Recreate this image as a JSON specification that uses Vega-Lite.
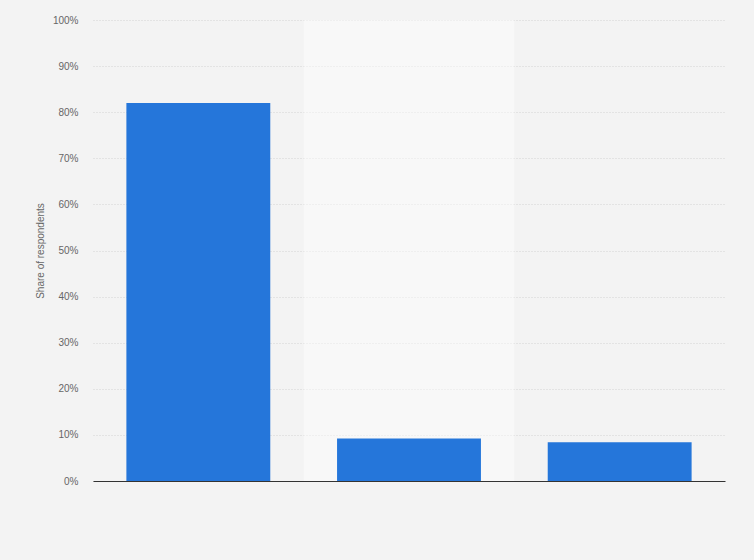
{
  "$schema": "https://vega.github.io/schema/vega-lite/v6.json",
  "width": 632,
  "height": 461,
  "autosize": "none",
  "padding": {"left": 93, "top": 20, "right": 29, "bottom": 79},
  "background": "#f3f3f3",
  "config": {
    "view": {"stroke": null},
    "font": "Liberation Sans"
  },
  "data": {
    "values": [
      {"category": "A", "share": 82.0},
      {"category": "B", "share": 9.2},
      {"category": "C", "share": 8.4}
    ]
  },
  "encoding": {
    "x": {
      "field": "category",
      "type": "nominal",
      "sort": null,
      "scale": {"domain": ["A", "B", "C"], "paddingInner": 0, "paddingOuter": 0},
      "axis": {
        "title": null,
        "labels": false,
        "ticks": false,
        "domain": true,
        "domainColor": "#333333",
        "domainWidth": 1.2,
        "grid": false
      }
    }
  },
  "layer": [
    {
      "transform": [{"filter": "datum.category === 'B'"}],
      "mark": {"type": "bar", "color": "#ffffff", "opacity": 0.42, "width": {"band": 1}},
      "encoding": {
        "y": {"datum": 100, "type": "quantitative", "scale": {"domain": [0, 100]}},
        "y2": {"datum": 0}
      }
    },
    {
      "mark": {"type": "bar", "color": "#2576da", "width": {"band": 0.683}},
      "encoding": {
        "y": {
          "field": "share",
          "type": "quantitative",
          "scale": {"domain": [0, 100]},
          "axis": {
            "title": "Share of respondents",
            "titleFontSize": 10,
            "titleFontWeight": "normal",
            "titleColor": "#666666",
            "titlePadding": 7,
            "values": [0, 10, 20, 30, 40, 50, 60, 70, 80, 90, 100],
            "labelExpr": "datum.value + '%'",
            "labelFontSize": 10,
            "labelColor": "#666666",
            "labelPadding": 15,
            "ticks": false,
            "domain": false,
            "grid": true,
            "gridColor": "#d2d2d2",
            "gridDash": [1, 2],
            "gridWidth": 1
          }
        }
      }
    }
  ]
}
